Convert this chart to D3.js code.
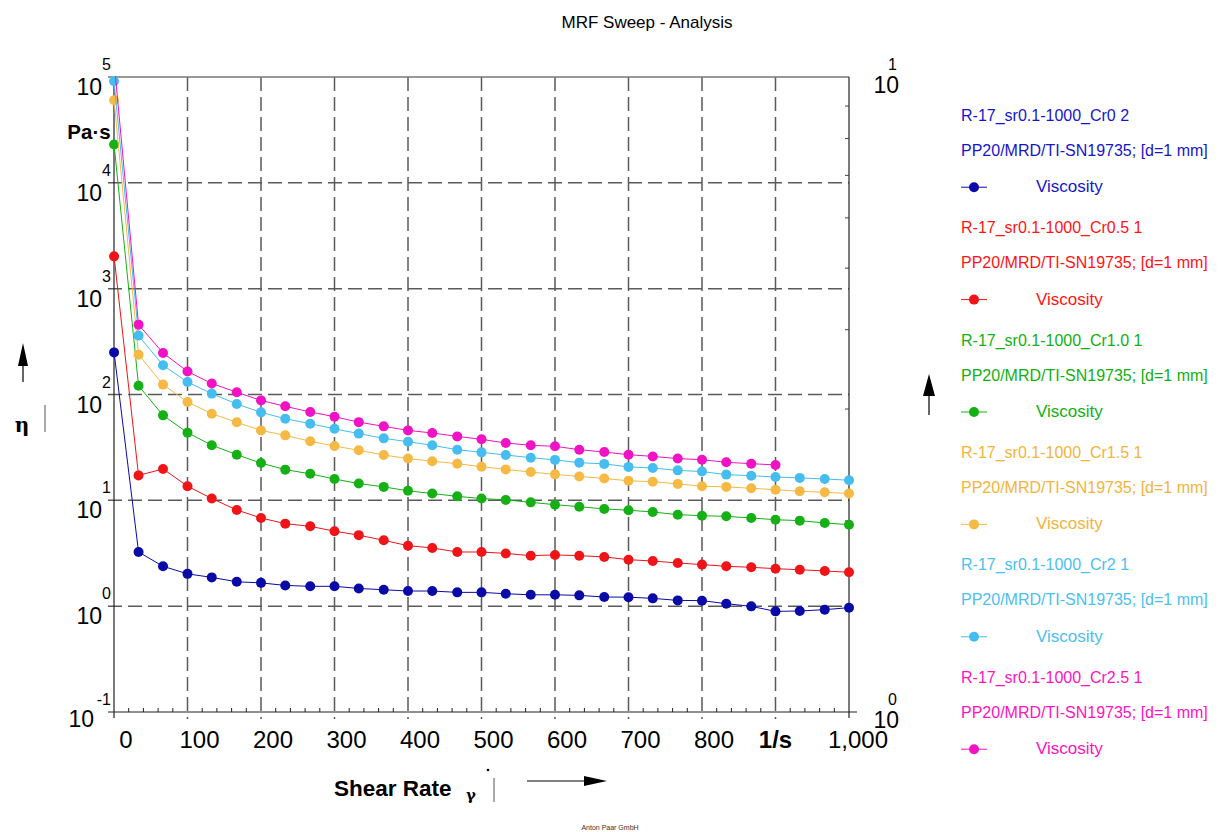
<!DOCTYPE html>
<html>
<head>
<meta charset="utf-8">
<script src="https://cdn.jsdelivr.net/npm/d3@7"></script>
<style>
    body { margin: 0; background: #fff; }
    svg { font-family: Arial, "Liberation Sans", sans-serif; }
</style>
</head>
<body>
<div class="chart"></div>
<script>
// shear rate sweep, 0.1 .. 1000 1/s
var shearRate = [0.1, 33.4, 66.7, 100, 133, 167, 200, 233, 267, 300, 333, 367, 400, 433, 467, 500,
    533, 567, 600, 633, 667, 700, 733, 767, 800, 833, 867, 900, 933, 967, 1000];

// viscosity in Pa·s
var viscCr0 = [250, 3.25, 2.38, 2.02, 1.87, 1.70, 1.66, 1.57, 1.54, 1.54, 1.47, 1.43, 1.39, 1.39, 1.35, 1.35,
    1.31, 1.28, 1.28, 1.265, 1.22, 1.216, 1.185, 1.134, 1.127, 1.056, 0.996, 0.893, 0.90, 0.927, 0.968];
var viscCr05 = [2020, 17.2, 19.8, 13.6, 10.4, 8.11, 6.81, 6.02, 5.68, 5.11, 4.69, 4.19, 3.73, 3.55, 3.25, 3.25,
    3.15, 3.0, 3.05, 3.0, 2.92, 2.75, 2.67, 2.56, 2.47, 2.38, 2.33, 2.26, 2.21, 2.15, 2.09];
var viscCr10 = [23000, 121, 63.5, 43.6, 33.2, 27.0, 22.5, 19.5, 17.8, 15.9, 14.4, 13.4, 12.3, 11.6, 10.9, 10.4,
    10.1, 9.57, 9.10, 8.71, 8.29, 8.07, 7.76, 7.32, 7.16, 7.06, 6.81, 6.56, 6.43, 6.11, 5.89];
var viscCr15 = [60200, 238, 124, 85.0, 65.9, 54.6, 45.8, 41.1, 36.1, 32.6, 29.7, 26.8, 24.8, 23.4, 22.2, 20.8,
    19.6, 18.5, 17.6, 16.8, 16.1, 15.3, 15.0, 14.3, 13.6, 13.4, 13.0, 12.6, 12.2, 11.9, 11.6];
var viscCr2 = [91000, 360, 189, 131, 102, 81.4, 67.8, 59.1, 53.0, 47.4, 42.7, 38.5, 35.8, 33.1, 30.1, 28.4,
    26.8, 25.3, 24.1, 22.7, 22.1, 20.7, 20.2, 19.2, 18.7, 17.5, 17.1, 16.6, 16.3, 15.9, 15.5];
var viscCr25 = [140000, 457, 247, 165, 127, 105, 88.0, 77.3, 68.4, 61.7, 54.8, 50.0, 45.8, 43.3, 40.2, 37.7,
    34.8, 33.1, 32.4, 30.1, 28.6, 27.0, 26.0, 24.8, 24.2, 22.9, 22.2, 21.6];

var seriesNames = ['R-17_sr0.1-1000_Cr0 2', 'R-17_sr0.1-1000_Cr0.5 1', 'R-17_sr0.1-1000_Cr1.0 1',
    'R-17_sr0.1-1000_Cr1.5 1', 'R-17_sr0.1-1000_Cr2 1', 'R-17_sr0.1-1000_Cr2.5 1'];
var seriesValues = [viscCr0, viscCr05, viscCr10, viscCr15, viscCr2, viscCr25];
var geometryLabel = 'PP20/MRD/TI-SN19735; [d=1 mm]';

var xTickValues = [0, 100, 200, 300, 400, 500, 600, 700, 800, 900, 1000];
var xTickLabels = ['0', '100', '200', '300', '400', '500', '600', '700', '800', '1/s', '1,000'];
var yTickExponents = [-1, 0, 1, 2, 3, 4, 5];
var y2TickExponents = [0, 1];

var config = {
    w: 1226,
    h: 832,
    left: 114,
    right: 849,
    top: 77,
    bottom: 712,
    markColors: ['#0a0aa6', '#ee1418', '#14b014', '#f6b944', '#46bdf0', '#f012c4'],
    textColors: ['#1616c8', '#ff1414', '#12b012', '#f4b43c', '#4cc0f0', '#ff12c2'],
    grid: '#5a5a5a'
};

var svg = d3.select('.chart')
    .append('svg')
    .attr('width', config.w)
    .attr('height', config.h);

var xScale = d3.scaleLinear()
    .domain([0, 1000])
    .range([config.left, config.right]);

var yScale = d3.scaleLog()
    .domain([0.1, 1e5])
    .range([config.bottom, config.top]);

var y2Scale = d3.scaleLog()
    .domain([1, 10])
    .range([config.bottom, config.top]);

// title
svg.append('text')
    .attr('x', 647)
    .attr('y', 28)
    .attr('text-anchor', 'middle')
    .attr('font-size', 17)
    .text('MRF Sweep - Analysis');

// grid
svg.append('g')
    .selectAll('line')
    .data(yTickExponents.filter(function (e) { return e > -1 && e < 5; }))
    .enter()
    .append('line')
    .attr('x1', config.left - 6)
    .attr('x2', config.right)
    .attr('y1', function (e) { return yScale(Math.pow(10, e)); })
    .attr('y2', function (e) { return yScale(Math.pow(10, e)); })
    .attr('stroke', config.grid)
    .attr('stroke-width', 1.5)
    .attr('stroke-dasharray', '14,6');

svg.append('g')
    .selectAll('line')
    .data(xTickValues.filter(function (v) { return v > 0 && v < 1000; }))
    .enter()
    .append('line')
    .attr('x1', function (v) { return xScale(v); })
    .attr('x2', function (v) { return xScale(v); })
    .attr('y1', config.top)
    .attr('y2', config.bottom + 7)
    .attr('stroke', config.grid)
    .attr('stroke-width', 1.5)
    .attr('stroke-dasharray', '14,6');

// frame
svg.append('line')
    .attr('x1', config.left - 6).attr('x2', config.right)
    .attr('y1', config.top).attr('y2', config.top)
    .attr('stroke', '#777').attr('stroke-width', 1.5);
svg.append('line')
    .attr('x1', config.left).attr('x2', config.left)
    .attr('y1', config.top).attr('y2', config.bottom + 6)
    .attr('stroke', '#222').attr('stroke-width', 1.2);
svg.append('line')
    .attr('x1', config.right).attr('x2', config.right)
    .attr('y1', config.top).attr('y2', config.bottom + 6)
    .attr('stroke', '#222').attr('stroke-width', 1.2);
svg.append('line')
    .attr('x1', config.left - 6).attr('x2', config.right + 8)
    .attr('y1', config.bottom).attr('y2', config.bottom)
    .attr('stroke', '#222').attr('stroke-width', 1.2);

// x minor ticks
var xMinor = d3.range(20, 1000, 20).filter(function (v) { return v % 100 !== 0; });
svg.append('g')
    .selectAll('line')
    .data(xMinor)
    .enter()
    .append('line')
    .attr('x1', function (v) { return xScale(v); })
    .attr('x2', function (v) { return xScale(v); })
    .attr('y1', config.bottom)
    .attr('y2', config.bottom - 4)
    .attr('stroke', '#222');

// right axis minor ticks 2..9
svg.append('g')
    .selectAll('line')
    .data(d3.range(2, 10))
    .enter()
    .append('line')
    .attr('x1', config.right - 4)
    .attr('x2', config.right)
    .attr('y1', function (v) { return y2Scale(v); })
    .attr('y2', function (v) { return y2Scale(v); })
    .attr('stroke', '#444');

// x tick labels
svg.append('g')
    .selectAll('text')
    .data(xTickValues)
    .enter()
    .append('text')
    .attr('x', function (v, i) {
        if (i === 9) return xScale(v);
        if (i === 10) return xScale(v) + 9;
        return xScale(v) + 12;
    })
    .attr('y', 748)
    .attr('text-anchor', 'middle')
    .attr('font-size', 24)
    .attr('font-weight', function (v, i) { return i === 9 ? 'bold' : 'normal'; })
    .text(function (v, i) { return xTickLabels[i]; });

// left y labels 10^n
var yLabels = svg.append('g')
    .selectAll('g')
    .data(yTickExponents)
    .enter()
    .append('g');
yLabels.append('text')
    .attr('x', 111)
    .attr('y', function (e) { return yScale(Math.pow(10, e)) - 7; })
    .attr('text-anchor', 'end')
    .attr('font-size', 16)
    .text(function (e) { return e; });
yLabels.append('text')
    .attr('x', function (e) { return e < 0 ? 94 : 102; })
    .attr('y', function (e) { return yScale(Math.pow(10, e)) + (e < 0 ? 15 : 18); })
    .attr('text-anchor', 'end')
    .attr('font-size', 23)
    .text('10');

// right y labels
var y2Labels = svg.append('g')
    .selectAll('g')
    .data(y2TickExponents)
    .enter()
    .append('g');
y2Labels.append('text')
    .attr('x', 897)
    .attr('y', function (e) { return y2Scale(Math.pow(10, e)) - 7; })
    .attr('text-anchor', 'end')
    .attr('font-size', 16)
    .text(function (e) { return e; });
y2Labels.append('text')
    .attr('x', 899)
    .attr('y', function (e) { return y2Scale(Math.pow(10, e)) + 16; })
    .attr('text-anchor', 'end')
    .attr('font-size', 23)
    .text('10');

// unit labels
svg.append('text')
    .attr('x', 89).attr('y', 139)
    .attr('text-anchor', 'middle')
    .attr('font-size', 20.5)
    .attr('font-weight', 'bold')
    .text('Pa·s');

svg.append('text')
    .attr('x', 22).attr('y', 432)
    .attr('text-anchor', 'middle')
    .attr('font-family', '"DejaVu Serif", "Liberation Serif", serif')
    .attr('font-size', 20)
    .attr('font-weight', 'bold')
    .text('η');
svg.append('line')
    .attr('x1', 45).attr('x2', 45).attr('y1', 405).attr('y2', 432)
    .attr('stroke', '#555');
svg.append('line')
    .attr('x1', 23).attr('x2', 23).attr('y1', 360).attr('y2', 382)
    .attr('stroke', '#000').attr('stroke-width', 1.2);
svg.append('path')
    .attr('d', 'M23,343 L18,366 L28,366 Z')
    .attr('fill', '#000');

svg.append('line')
    .attr('x1', 929).attr('x2', 929).attr('y1', 392).attr('y2', 415)
    .attr('stroke', '#000').attr('stroke-width', 1.2);
svg.append('path')
    .attr('d', 'M929,374 L923,396 L935,396 Z')
    .attr('fill', '#000');

svg.append('text')
    .attr('x', 334).attr('y', 796)
    .attr('font-size', 22.5)
    .attr('font-weight', 'bold')
    .text('Shear Rate');
svg.append('text')
    .attr('x', 471).attr('y', 800)
    .attr('text-anchor', 'middle')
    .attr('font-family', '"DejaVu Serif", "Liberation Serif", serif')
    .attr('font-size', 15)
    .attr('font-weight', 'bold')
    .text('γ');
svg.append('circle')
    .attr('cx', 488).attr('cy', 770).attr('r', 1.3)
    .attr('fill', '#000');
svg.append('line')
    .attr('x1', 494).attr('x2', 494).attr('y1', 778).attr('y2', 802)
    .attr('stroke', '#555');
svg.append('line')
    .attr('x1', 527).attr('x2', 588).attr('y1', 781).attr('y2', 781)
    .attr('stroke', '#000').attr('stroke-width', 1.2);
svg.append('path')
    .attr('d', 'M607,781 L584,776 L584,786 Z')
    .attr('fill', '#000');

svg.append('text')
    .attr('x', 610).attr('y', 830)
    .attr('text-anchor', 'middle')
    .attr('font-size', 7)
    .attr('fill', '#333')
    .text('Anton Paar GmbH');

// data
svg.append('clipPath')
    .attr('id', 'plotclip')
    .append('rect')
    .attr('x', config.left - 10)
    .attr('y', config.top - 1)
    .attr('width', config.right - config.left + 20)
    .attr('height', config.bottom - config.top + 2);

var line = d3.line()
    .x(function (d) { return xScale(d.x); })
    .y(function (d) { return yScale(d.y); });

var plot = svg.append('g').attr('clip-path', 'url(#plotclip)');

seriesValues.forEach(function (values, i) {
    var pts = values.map(function (v, j) { return { x: shearRate[j], y: v }; });
    var g = plot.append('g');
    g.append('path')
        .datum(pts)
        .attr('d', line)
        .attr('fill', 'none')
        .attr('stroke', config.markColors[i])
        .attr('stroke-width', 1);
    g.selectAll('circle')
        .data(pts)
        .enter()
        .append('circle')
        .attr('cx', function (d) { return xScale(d.x); })
        .attr('cy', function (d) { return yScale(d.y); })
        .attr('r', 5)
        .attr('fill', config.markColors[i]);
});

// legend
var legend = svg.append('g')
    .selectAll('g')
    .data(seriesNames)
    .enter()
    .append('g')
    .attr('transform', function (d, i) { return 'translate(961,' + (120.7 + i * 112.4) + ')'; });

legend.append('text')
    .attr('font-size', 16)
    .attr('fill', function (d, i) { return config.textColors[i]; })
    .text(function (d) { return d; });
legend.append('text')
    .attr('y', 35)
    .attr('font-size', 16)
    .attr('fill', function (d, i) { return config.textColors[i]; })
    .text(geometryLabel);
legend.append('line')
    .attr('x1', 0).attr('x2', 26)
    .attr('y1', 66.5).attr('y2', 66.5)
    .attr('stroke', function (d, i) { return config.markColors[i]; });
legend.append('circle')
    .attr('cx', 13).attr('cy', 66.5).attr('r', 5)
    .attr('fill', function (d, i) { return config.markColors[i]; });
legend.append('text')
    .attr('x', 75)
    .attr('y', 71.5)
    .attr('font-size', 17)
    .attr('fill', function (d, i) { return config.textColors[i]; })
    .text('Viscosity');
</script>
</body>
</html>
